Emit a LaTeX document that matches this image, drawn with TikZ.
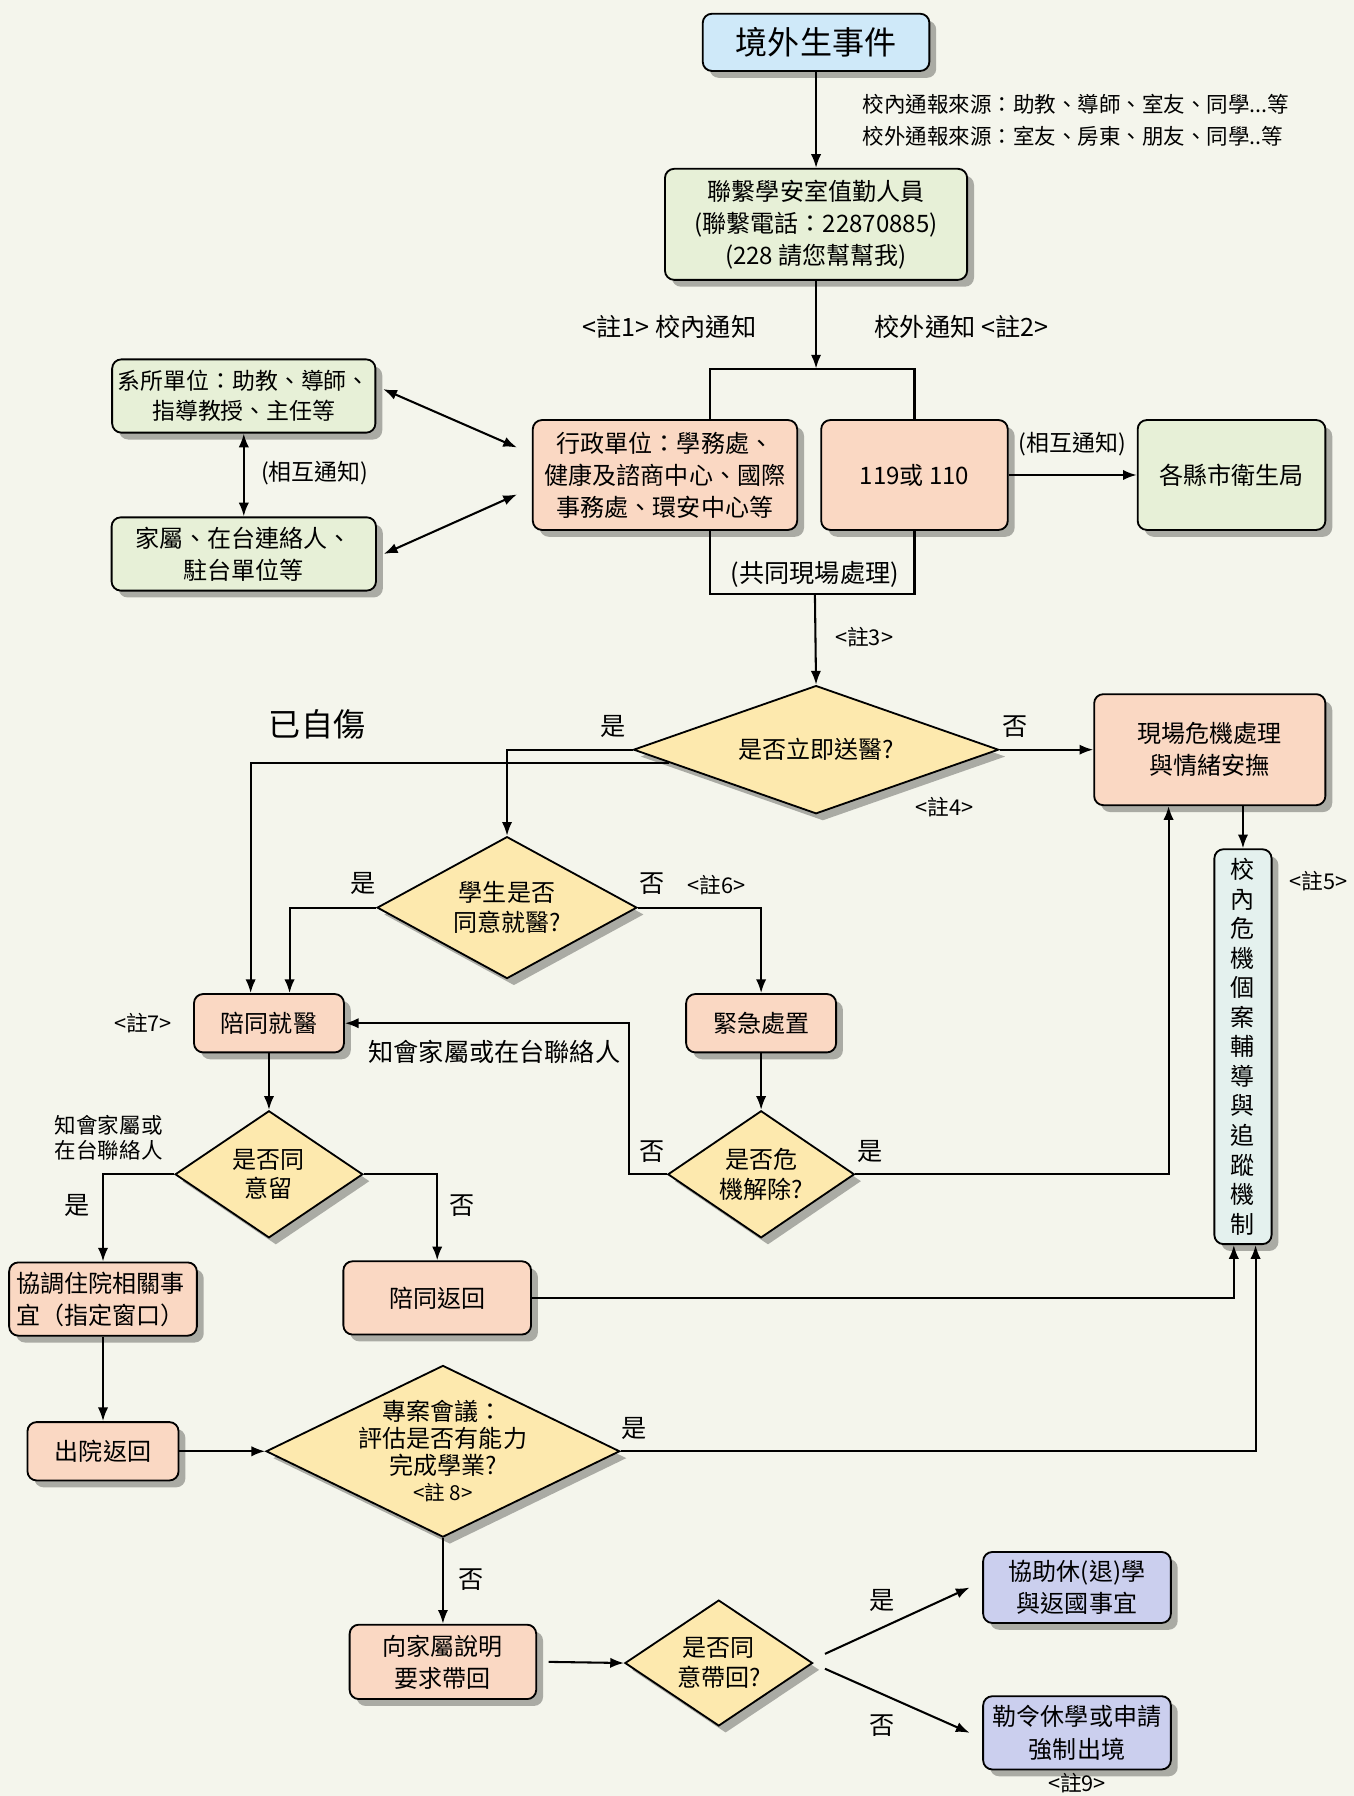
\documentclass[tikz,border=0pt]{standalone}
\usepackage{fontspec}
\setmainfont{Noto Sans CJK TC}
\usetikzlibrary{shapes.geometric, shadows, calc, arrows.meta}

\definecolor{bgcream}{HTML}{F4F5EC}
\definecolor{bluebox}{HTML}{CFE9F9}
\definecolor{greenbox}{HTML}{E7F0D7}
\definecolor{salmonbox}{HTML}{FAD8C3}
\definecolor{yellowdia}{HTML}{FDE9AE}
\definecolor{cyanbox}{HTML}{E4F1EE}
\definecolor{lavbox}{HTML}{CBCFEE}

\begin{document}
\begin{tikzpicture}
            [x=0.5pt, y=-0.5pt, ->, >={Latex[length=6pt, width=4.5pt]}, line width=0.9pt,
             box/.style={draw=black, line width=0.8pt, rounded corners=4pt, inner sep=0pt, align=center,
                 font=\fontsize{10.5pt}{14pt}\selectfont,
                 drop shadow={shadow xshift=3pt, shadow yshift=-3pt, fill=black, opacity=0.3}},
             dia/.style={shape=diamond, draw=black, line width=0.8pt, fill=yellowdia, inner sep=0pt,
                 drop shadow={shadow xshift=3pt, shadow yshift=-3pt, fill=black, opacity=0.3}},
             dtext/.style={font=\fontsize{10.5pt}{13pt}\selectfont, align=center},
             yn/.style={font=\fontsize{11pt}{13pt}\selectfont},
             paren/.style={font=\fontsize{10pt}{12pt}\selectfont},
             srcnote/.style={font=\fontsize{9.4pt}{11pt}\selectfont, align=left},
             refnote/.style={font=\fontsize{9.5pt}{11pt}\selectfont}]
            \fill[bgcream] (0, 0) rectangle (1183, 1569.2);
            \useasboundingbox (0, 0) rectangle (1183, 1569.2);

            \node[box, fill=bluebox, minimum width=99pt, minimum height=25pt, font=\fontsize{14pt}{16pt}\selectfont] (evt) at (713, 37) {境外生事件};
            \node[srcnote, anchor=west] (src1) at (746, 91) {校內通報來源：助教、導師、室友、同學...等};
            \node[srcnote, anchor=west] (src2) at (746, 119) {校外通報來源：室友、房東、朋友、同學..等};
            \node[box, fill=greenbox, minimum width=132pt, minimum height=48.5pt] (duty) at (713, 196) {聯繫學安室值勤人員\\(聯繫電話：22870885)\\(228 請您幫幫我)};
            \node[yn] (in1) at (585, 286) {<註1> 校內通知};
            \node[yn] (out2) at (840, 286) {校外通知 <註2>};
            \coordinate (split) at (713, 322);

            \node[box, fill=salmonbox, minimum width=115.5pt, minimum height=48pt] (admin) at (581, 415) {行政單位：學務處、\\健康及諮商中心、國際\\事務處、環安中心等};
            \node[box, fill=salmonbox, minimum width=81.5pt, minimum height=48pt] (call) at (799, 415) {119或 110};
            \node[box, fill=greenbox, minimum width=82pt, minimum height=48pt] (hlth) at (1076, 415) {各縣市衛生局};
            \node[paren] (mut1) at (937, 388) {(相互通知)};
            \node[box, fill=greenbox, minimum width=115pt, minimum height=32pt, font=\fontsize{10pt}{13pt}\selectfont] (dept) at (213, 346) {系所單位：助教、導師、\\指導教授、主任等};
            \node[box, fill=greenbox, minimum width=115.5pt, minimum height=32pt] (fam) at (213, 484) {家屬、在台連絡人、\\駐台單位等};
            \node[paren] (mut2) at (275, 413) {(相互通知)};
            \node[yn] (joint) at (712, 502) {(共同現場處理)};
            \coordinate (join) at (712, 519);
            \node[refnote] (n3) at (755, 557) {<註3>};

            \node[dia, minimum width=159.5pt, minimum height=56pt, label={[dtext]center:是否立即送醫?}] (d1) at (713, 655) {};
            \node[yn] (y1) at (536, 635) {是};
            \node[yn] (no1) at (887, 635) {否};
            \node[refnote] (n4) at (825, 705) {<註4>};
            \node[font=\fontsize{14pt}{16pt}\selectfont] (selfharm) at (277, 633) {已自傷};
            \node[box, fill=salmonbox, minimum width=101pt, minimum height=48.5pt] (scene) at (1057, 655) {現場危機處理\\與情緒安撫};
            \node[box, fill=cyanbox, minimum width=25pt, minimum height=172.5pt, font=\fontsize{10.5pt}{12.9pt}\selectfont] (track) at (1086, 914.5) {校\\內\\危\\機\\個\\案\\輔\\導\\與\\追\\蹤\\機\\制};
            \node[refnote] (n5) at (1152, 770) {<註5>};

            \node[dia, minimum width=113.5pt, minimum height=62pt, label={[dtext]center:學生是否\\同意就醫?}] (d2) at (443, 793) {};
            \node[yn] (y2) at (317, 772) {是};
            \node[yn] (no2) at (570, 772) {否};
            \node[refnote] (n6) at (626, 773) {<註6>};
            \node[box, fill=salmonbox, minimum width=65.5pt, minimum height=25.5pt] (accmp) at (235, 894) {陪同就醫};
            \node[refnote] (n7) at (125, 894) {<註7>};
            \node[box, fill=salmonbox, minimum width=65.5pt, minimum height=25.5pt] (emerg) at (665, 894) {緊急處置};
            \node[yn] (inform) at (432, 919) {知會家屬或在台聯絡人};

            \node[dia, minimum width=81.5pt, minimum height=55.5pt, label={[dtext]center:是否危\\機解除?}] (d3) at (665, 1026) {};
            \node[yn] (y3) at (760, 1006) {是};
            \node[yn] (no3) at (570, 1006) {否};
            \node[dia, minimum width=82pt, minimum height=55.5pt, label={[dtext]center:是否同\\意留}] (d4) at (235, 1026) {};
            \node[srcnote, align=left] (inform2) at (95, 994) {知會家屬或\\在台聯絡人};
            \node[yn] (y4) at (67, 1053) {是};
            \node[yn] (no4) at (404, 1053) {否};
            \node[box, fill=salmonbox, minimum width=82pt, minimum height=32pt, text width=76pt, align=left] (hosp) at (90, 1135) {協調住院相關事\\宜（指定窗口）};
            \node[box, fill=salmonbox, minimum width=82pt, minimum height=32pt] (ret) at (382, 1134) {陪同返回};
            \node[box, fill=salmonbox, minimum width=66pt, minimum height=25.5pt] (disc) at (90, 1268) {出院返回};

            \node[dia, minimum width=154.5pt, minimum height=75pt, label={[font=\fontsize{10.5pt}{11.6pt}\selectfont, align=center]center:專案會議：\\評估是否有能力\\完成學業?\\{\fontsize{9pt}{10pt}\selectfont <註 8>}}] (d5) at (387, 1268) {};
            \node[yn] (y5) at (554, 1248) {是};
            \node[yn] (no5) at (412, 1380) {否};
            \node[box, fill=salmonbox, minimum width=81.5pt, minimum height=32.5pt] (expl) at (387, 1452) {向家屬說明\\要求帶回};
            \node[dia, minimum width=82pt, minimum height=55pt, label={[dtext]center:是否同\\意帶回?}] (d6) at (628, 1453) {};
            \node[yn] (y6) at (771, 1398) {是};
            \node[yn] (no6) at (771, 1508) {否};
            \node[box, fill=lavbox, minimum width=82pt, minimum height=31pt] (leave) at (941, 1387) {協助休(退)學\\與返國事宜};
            \node[box, fill=lavbox, minimum width=82pt, minimum height=32pt] (deport) at (941, 1514) {勒令休學或申請\\強制出境};
            \node[refnote] (n9) at (941, 1558) {<註9>};

            \draw (evt) -- (duty);
            \draw (duty) -- (split);
            \draw[-] ([xshift=19.5pt]admin.north) |- (split) -| (call.north);
            \draw[-] ([xshift=19.5pt]admin.south) |- (join) -| (call.south);
            \draw (join) -- (d1.north);
            \draw (call) -- (hlth);
            \draw[<->] (dept) -- (fam);
            \draw[<->] ([xshift=3pt, yshift=3pt]dept.east) -- ([xshift=-6.5pt, yshift=12pt]admin.west);
            \draw[<->] ([xshift=3pt]fam.east) -- ([xshift=-6.5pt, yshift=-8.5pt]admin.west);

            \draw (d1.west) -| (d2.north);
            \draw ($(d1.west)!0.2!(d1.south)$) -| ([xshift=-8pt]accmp.north);
            \draw (d1.east) -- (scene.west);
            \draw (scene.south -| track.north) -- (track.north);
            \draw (d2.west) -| ([xshift=9pt]accmp.north);
            \draw (d2.east) -| (emerg.north);
            \draw (emerg) -- (d3.north);
            \draw (d3.east) -| ([xshift=-18pt]scene.south);
            \draw (d3.west) -- ++(-16.5pt, 0) |- (accmp.east);
            \draw (accmp) -- (d4.north);
            \draw (d4.west) -| (hosp.north);
            \draw (d4.east) -| (ret.north);
            \draw (ret.east) -| ([xshift=-4pt]track.south);
            \draw (hosp) -- (disc);
            \draw (disc) -- (d5.west);
            \draw (d5.east) -| ([xshift=5.5pt]track.south);
            \draw (d5.south) -- (expl.north);
            \draw ([xshift=5pt]expl.east) -- (d6.west);
            \draw ([shift={(5pt, 4pt)}]d6.east) -- ([xshift=-5.5pt]leave.west);
            \draw ([shift={(5pt, -2.5pt)}]d6.east) -- ([xshift=-5.5pt]deport.west);
        \end{tikzpicture}
\end{document}
